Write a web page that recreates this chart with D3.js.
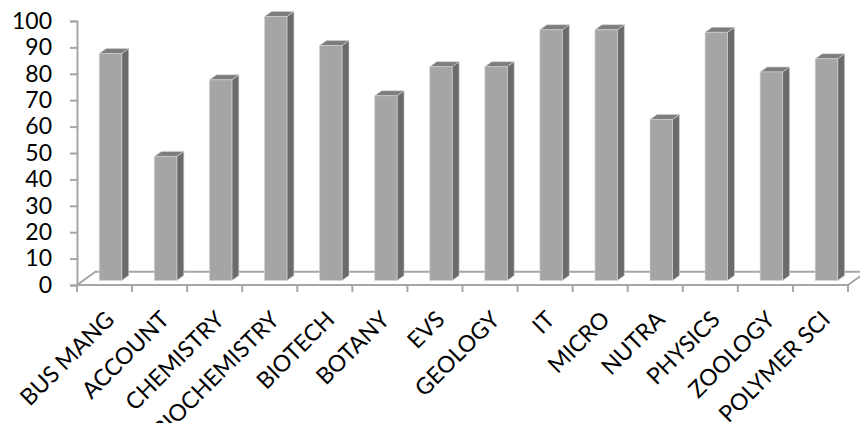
<!DOCTYPE html>
<html>
<head>
<meta charset="utf-8">
<script src="https://cdn.jsdelivr.net/npm/d3@7"></script>
<style>
  body { margin: 0; background: #fff; }
  text { font-family: Lato, "Open Sans", sans-serif; fill: #000; }
</style>
</head>
<body>
<div id="chart"></div>
<script>
var categories = ["BUS MANG", "ACCOUNT", "CHEMISTRY", "BIOCHEMISTRY", "BIOTECH", "BOTANY", "EVS",
  "GEOLOGY", "IT", "MICRO", "NUTRA", "PHYSICS", "ZOOLOGY", "POLYMER SCI"];
var scores = [86, 47, 76, 100, 89, 70, 81, 81, 95, 95, 61, 94, 79, 84];
var yTicks = [0, 10, 20, 30, 40, 50, 60, 70, 80, 90, 100];

var svgWidth = 860;
var svgHeight = 423;

var plotLeft = 77, plotRight = 848, plotBottom = 285, plotTop = 21;
// depth of the floor (3d look)
var floorDx = 18.5, floorDy = -13.3;
// bars sit a bit back on the floor
var barDy = -4.5;
// depth of a bar
var depthDx = 7, depthDy = -5;

var svg = d3.select("#chart")
  .append("svg")
  .attr("width", svgWidth)
  .attr("height", svgHeight);

var x = d3.scaleBand()
  .domain(categories)
  .range([plotLeft, plotRight]);

var y = d3.scaleLinear()
  .domain([0, 100])
  .range([plotBottom, plotTop]);

// floor
var floor = svg.append("g")
  .attr("fill", "none")
  .attr("stroke", "#a6a6a6")
  .attr("stroke-width", 2);

floor.append("path")
  .attr("d", `M${plotLeft},${plotBottom} L${plotLeft + floorDx},${plotBottom + floorDy} L${plotRight + floorDx},${plotBottom + floorDy} M${plotRight},${plotBottom} L${plotRight + floorDx},${plotBottom + floorDy}`);

// bars
var bw = x.bandwidth();
var barGs = svg.selectAll("g.bar")
  .data(categories)
  .enter()
  .append("g")
  .attr("class", "bar")
  .attr("stroke", "#d4d4d4")
  .attr("stroke-width", 0.6)
  .attr("stroke-linejoin", "round");

function faces(d, i) {
  var x0 = x(d) + bw * 0.405;
  var x1 = x0 + bw * 0.407;
  var yb = y(0) + barDy;
  var yt = y(scores[i]) + barDy;
  return { x0: x0, x1: x1, yb: yb, yt: yt };
}

// side face
barGs.append("path")
  .attr("fill", "#6b6b6b")
  .attr("d", function(d, i) {
    var f = faces(d, i);
    return `M${f.x1},${f.yb} L${f.x1 + depthDx},${f.yb + depthDy} L${f.x1 + depthDx},${f.yt + depthDy} L${f.x1},${f.yt} Z`;
  });

// top face
barGs.append("path")
  .attr("fill", "#7d7d7d")
  .attr("d", function(d, i) {
    var f = faces(d, i);
    return `M${f.x0},${f.yt} L${f.x1},${f.yt} L${f.x1 + depthDx},${f.yt + depthDy} L${f.x0 + depthDx},${f.yt + depthDy} Z`;
  });

// front face
barGs.append("rect")
  .attr("fill", "#a5a5a5")
  .attr("x", function(d, i) { return faces(d, i).x0; })
  .attr("y", function(d, i) { return faces(d, i).yt; })
  .attr("width", bw * 0.407)
  .attr("height", function(d, i) { var f = faces(d, i); return f.yb - f.yt; });

// front edge of floor
floor.append("line")
  .attr("x1", plotLeft).attr("x2", plotRight)
  .attr("y1", plotBottom).attr("y2", plotBottom);

// y axis
var leftAxis = d3.axisLeft(y)
  .tickValues(yTicks)
  .tickSize(7)
  .tickPadding(18);

var yAxis = svg.append("g")
  .attr("transform", `translate(${plotLeft}, 0)`)
  .call(leftAxis);

yAxis.select(".domain").attr("stroke", "#a6a6a6").attr("stroke-width", 2);
yAxis.selectAll(".tick line").attr("stroke", "#a6a6a6").attr("stroke-width", 2);
yAxis.selectAll(".tick text")
  .attr("font-family", "Lato, 'Open Sans', sans-serif")
  .attr("font-size", 23)
  .attr("fill", "#000");

// category ticks at band edges
var edges = categories.map(function(d) { return x(d); }).concat([plotRight]);
svg.append("g")
  .selectAll("line")
  .data(edges)
  .enter()
  .append("line")
  .attr("x1", d => d).attr("x2", d => d)
  .attr("y1", plotBottom).attr("y2", plotBottom + 7)
  .attr("stroke", "#a6a6a6")
  .attr("stroke-width", 2);

// category labels, rotated
svg.append("g")
  .selectAll("text")
  .data(categories)
  .enter()
  .append("text")
  .attr("text-anchor", "end")
  .attr("font-size", 23)
  .attr("transform", d => `translate(${x(d) + bw / 2 + 11}, 321) rotate(-45)`)
  .text(d => d);
</script>
</body>
</html>
